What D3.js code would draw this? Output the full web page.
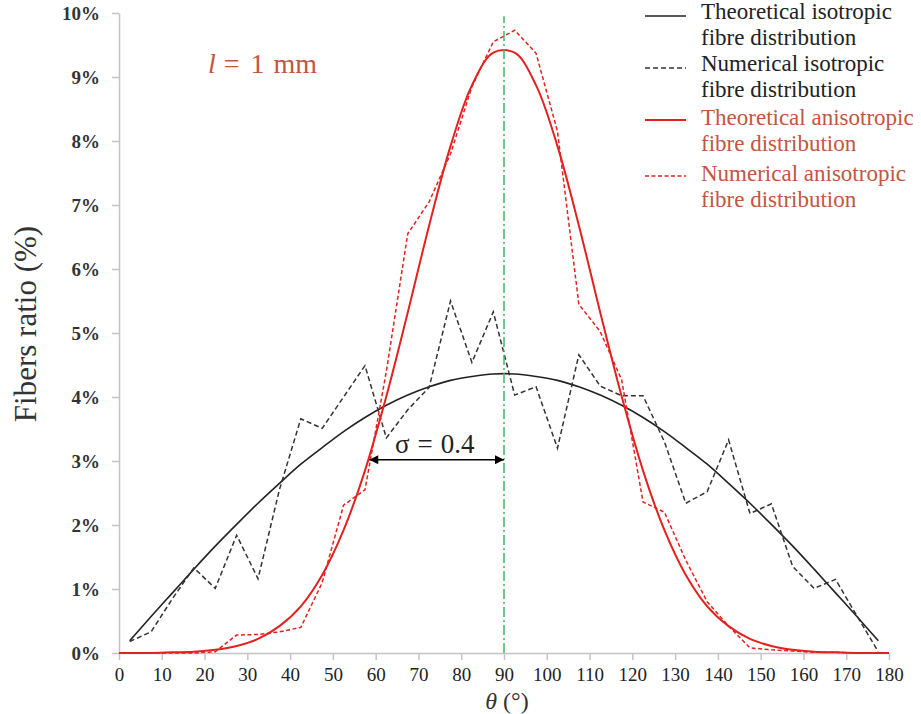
<!DOCTYPE html>
<html>
<head>
<meta charset="utf-8">
<script src="https://cdn.jsdelivr.net/npm/d3@7"></script>
</head>
<body style="margin:0; background:#fff">
<svg width="921" height="714"></svg>
<script>
const width = 921, height = 714;
const svg = d3.select("svg");
const serif = "'Liberation Serif', serif";

// bin centres (degrees)
const thetaBins = [2.5, 7.5, 12.5, 17.5, 22.5, 27.5, 32.5, 37.5, 42.5, 47.5, 52.5, 57.5,
    62.5, 67.5, 72.5, 77.5, 82.5, 87.5, 92.5, 97.5, 102.5, 107.5, 112.5, 117.5,
    122.5, 127.5, 132.5, 137.5, 142.5, 147.5, 152.5, 157.5, 162.5, 167.5, 172.5, 177.5];

// fibre ratio (%) per bin
const isoTheory = [0.19, 0.57, 0.94, 1.31, 1.67, 2.01, 2.34, 2.65, 2.95, 3.21, 3.46, 3.68,
    3.87, 4.03, 4.16, 4.26, 4.32, 4.36, 4.36, 4.32, 4.26, 4.16, 4.03, 3.87,
    3.68, 3.46, 3.21, 2.95, 2.65, 2.34, 2.01, 1.67, 1.31, 0.94, 0.57, 0.19];

const isoNumerical = [0.18, 0.33, 0.85, 1.33, 1.01, 1.84, 1.16, 2.55, 3.66, 3.51, 4.0, 4.49,
    3.36, 3.8, 4.15, 5.5, 4.54, 5.33, 4.03, 4.16, 3.2, 4.66, 4.17, 4.02,
    4.02, 3.3, 2.34, 2.52, 3.33, 2.18, 2.33, 1.35, 1.01, 1.15, 0.58, 0.02];

const anisoTheta = [0].concat(thetaBins, [180]);
const anisoTheory = [0, 0, 0, 0.01, 0.02, 0.05, 0.11, 0.22, 0.42, 0.73, 1.22, 1.92, 2.85,
    4.01, 5.32, 6.68, 7.92, 8.87, 9.38, 9.38, 8.87, 7.92, 6.68, 5.32, 4.01,
    2.85, 1.92, 1.22, 0.73, 0.42, 0.22, 0.11, 0.05, 0.02, 0.01, 0, 0, 0];

const anisoNumerical = [0, 0, 0, 0, 0.02, 0.28, 0.29, 0.33, 0.4, 1.1, 2.31, 2.55,
    4.4, 6.55, 7.05, 7.8, 8.85, 9.55, 9.73, 9.37, 8.15, 5.45, 5.02, 4.27,
    2.36, 2.2, 1.45, 0.8, 0.42, 0.08, 0.05, 0.03, 0.01, 0.01, 0, 0];

const xTicks = d3.range(0, 181, 10);
const yTicks = d3.range(0, 11, 1);

const legendItems = [
    { label: ["Theoretical isotropic", "fibre distribution"], color: "#222", text: "#222", dash: null, width: 1.6 },
    { label: ["Numerical isotropic", "fibre distribution"], color: "#333", text: "#222", dash: "5,3", width: 1.5 },
    { label: ["Theoretical anisotropic", "fibre distribution"], color: "#e3221f", text: "#c4553f", dash: null, width: 2 },
    { label: ["Numerical anisotropic", "fibre distribution"], color: "#e3221f", text: "#c4553f", dash: "4,2.5", width: 1.5 }
];

// scales
const x = d3.scaleLinear().domain([0, 180]).range([119, 889]);
const y = d3.scaleLinear().domain([0, 10]).range([653, 13]);

// axes
function addAxes() {
    const gx = svg.append("g")
        .attr("transform", `translate(0,${y(0)})`)
        .call(d3.axisBottom(x).tickValues(xTicks).tickSize(7).tickSizeOuter(0).tickPadding(8));
    gx.attr("font-family", null);
    gx.select(".domain").attr("stroke", "#c4c4c4").attr("stroke-width", 1.5);
    gx.selectAll(".tick line").attr("stroke", "#c4c4c4").attr("stroke-width", 1.5);
    gx.selectAll(".tick text").style("font-family", serif).style("font-size", "19px").style("fill", "#222");

    const gy = svg.append("g")
        .attr("transform", `translate(${x(0)},0)`)
        .call(d3.axisLeft(y).tickValues(yTicks).tickSize(7).tickSizeOuter(0).tickPadding(12)
            .tickFormat(d => d + "%"));
    gy.attr("font-family", null);
    gy.select(".domain").attr("stroke", "#c4c4c4").attr("stroke-width", 1.5);
    gy.selectAll(".tick line").attr("stroke", "#c4c4c4").attr("stroke-width", 1.5);
    gy.selectAll(".tick text").style("font-family", serif).style("font-size", "19px")
        .style("font-weight", "bold").style("fill", "#333");
}

function addAxisLabels() {
    svg.append("text")
        .attr("transform", "rotate(-90)")
        .attr("x", -324)
        .attr("y", 36)
        .attr("text-anchor", "middle")
        .style("font-family", serif).style("font-size", "31px").style("fill", "#333")
        .text("Fibers ratio (%)");

    const t = svg.append("text")
        .attr("x", 507)
        .attr("y", 709)
        .attr("text-anchor", "middle")
        .style("font-family", serif).style("font-size", "24px").style("fill", "#333");
    t.append("tspan").style("font-style", "italic").text("θ");
    t.append("tspan").text(" (°)");
}

function drawLine(xs, ys, color, w, dash, curve) {
    const line = d3.line()
        .x((d, i) => x(xs[i]))
        .y(d => y(d))
        .curve(curve);
    svg.append("path")
        .datum(ys)
        .attr("d", line)
        .attr("fill", "none")
        .attr("stroke", color)
        .attr("stroke-width", w)
        .attr("stroke-dasharray", dash);
}

function drawSeries() {
    drawLine(thetaBins, isoTheory, "#222", 1.6, null, d3.curveCatmullRom);
    drawLine(thetaBins, isoNumerical, "#333", 1.5, "5,3", d3.curveLinear);
    drawLine(anisoTheta, anisoTheory, "#e3221f", 2, null, d3.curveCatmullRom);
    drawLine(thetaBins, anisoNumerical, "#e3221f", 1.5, "4,2.5", d3.curveLinear);

    // mean direction
    svg.append("line")
        .attr("x1", x(90)).attr("x2", x(90))
        .attr("y1", y(0)).attr("y2", y(9.95))
        .attr("stroke", "#3cb860").attr("stroke-width", 1.5)
        .attr("stroke-dasharray", "10,3,2,3");
}

function drawSigma() {
    const defs = svg.append("defs");
    defs.append("marker")
        .attr("id", "arrowHead")
        .attr("viewBox", "0 0 10 10")
        .attr("refX", 10).attr("refY", 5)
        .attr("markerWidth", 11).attr("markerHeight", 9)
        .attr("markerUnits", "userSpaceOnUse")
        .attr("orient", "auto-start-reverse")
        .append("path")
        .attr("d", "M0,0 L10,5 L0,10 Z")
        .attr("fill", "#000");

    svg.append("line")
        .attr("x1", x(58.5)).attr("x2", x(90))
        .attr("y1", y(3.02)).attr("y2", y(3.02))
        .attr("stroke", "#000").attr("stroke-width", 1.6)
        .attr("marker-start", "url(#arrowHead)")
        .attr("marker-end", "url(#arrowHead)");

    const t = svg.append("text")
        .attr("x", 395).attr("y", 453)
        .style("font-family", serif).style("font-size", "27px").style("fill", "#222");
    t.append("tspan").text("σ");
    t.append("tspan").attr("dx", 8).text("=");
    t.append("tspan").attr("dx", 8).text("0.4");
}

function drawLengthNote() {
    const t = svg.append("text")
        .attr("x", 208).attr("y", 73)
        .style("font-family", serif).style("font-size", "28px").style("fill", "#c4553f");
    t.append("tspan").style("font-style", "italic").text("l");
    t.append("tspan").attr("dx", 8).text("=");
    t.append("tspan").attr("dx", 11).text("1");
    t.append("tspan").attr("dx", 9).text("mm");
}

function drawLegend() {
    const rowY = [16, 68, 120, 176];
    const textY = [19, 71, 125, 181];
    legendItems.forEach((d, i) => {
        svg.append("line")
            .attr("x1", 645).attr("x2", 686)
            .attr("y1", rowY[i]).attr("y2", rowY[i])
            .attr("stroke", d.color).attr("stroke-width", d.width)
            .attr("stroke-dasharray", d.dash);
        d.label.forEach((s, j) => {
            svg.append("text")
                .attr("x", 701).attr("y", textY[i] + j * 26)
                .style("font-family", serif).style("font-size", "23px").style("fill", d.text)
                .text(s);
        });
    });
}

addAxes();
addAxisLabels();
drawSeries();
drawSigma();
drawLengthNote();
drawLegend();
</script>
</body>
</html>
